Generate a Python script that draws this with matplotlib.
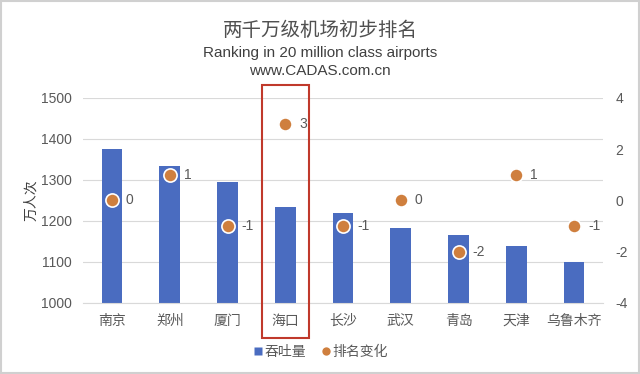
import matplotlib
matplotlib.use("Agg")
import matplotlib.pyplot as plt
import matplotlib.transforms as mtransforms
from matplotlib.patches import Rectangle
from matplotlib.lines import Line2D

plt.rcParams['font.family'] = ['Noto Sans CJK SC', 'DejaVu Sans']
plt.rcParams['axes.unicode_minus'] = False

categories = ['南京', '郑州', '厦门', '海口', '长沙', '武汉', '青岛', '天津', '乌鲁木齐']
throughput = [1375, 1335, 1296, 1235, 1220, 1184, 1165, 1138, 1100]
rank_change = [0, 1, -1, 3, -1, 0, -2, 1, -1]
left_ticks = [1000, 1100, 1200, 1300, 1400, 1500]
right_ticks = [-4, -2, 0, 2, 4]

bar_color = '#4a6cc0'
dot_color = '#cf7f3e'
text_color = '#595959'
grid_color = '#d9d9d9'
latin = ['Liberation Sans', 'DejaVu Sans']

fig = plt.figure(figsize=(6.4, 3.74), dpi=100)
ax = fig.add_axes([0.13, 0.19, 0.812, 0.548])
ax2 = ax.twinx()

x = list(range(len(categories)))
ax.bar(x, throughput, width=0.36, color=bar_color, zorder=2)
ax.set_ylim(1000, 1500)
ax.set_yticks(left_ticks)
ax.set_xlim(-0.5, len(categories) - 0.5)
ax.set_xticks(x)
ax.set_xticklabels(categories, fontsize=10, color=text_color)
ax.yaxis.grid(True, color=grid_color, linewidth=0.8, zorder=0)
ax.set_axisbelow(True)
for s in ['top', 'right', 'left']:
    ax.spines[s].set_visible(False)
ax.spines['bottom'].set_color(grid_color)
ax.tick_params(axis='both', length=0, colors=text_color, labelsize=10)
ax.tick_params(axis='x', pad=8)
ax.tick_params(axis='y', pad=8)
for lbl in ax.get_yticklabels():
    lbl.set_family(latin)
ax.set_ylabel('万人次', fontsize=10, color='#404040', labelpad=2)

ax2.scatter(x, rank_change, s=90, color=dot_color, edgecolors='white', linewidths=1.2, zorder=3)
for xi, v in zip(x, rank_change):
    ax2.annotate(str(v), (xi, v), xytext=(10, 0), textcoords='offset points',
                 va='center', ha='left', fontsize=10, color=text_color, family=latin)
ax2.set_ylim(-4, 4)
ax2.set_yticks(right_ticks)
ax2.set_yticklabels([str(t) for t in right_ticks], family=latin)
for s in ['top', 'right', 'left', 'bottom']:
    ax2.spines[s].set_visible(False)
ax2.tick_params(axis='y', length=0, colors=text_color, labelsize=10, pad=9)

# highlight box around 海口
trans = mtransforms.blended_transform_factory(ax.transData, fig.transFigure)
idx = categories.index('海口')
rect = Rectangle((idx - 0.41, 1 - 338 / 374), 0.82, (338 - 85) / 374,
                 transform=trans, fill=False, edgecolor='#c0392b', linewidth=1.5,
                 clip_on=False, zorder=5)
fig.add_artist(rect)

fig.text(0.5, 0.918, '两千万级机场初步排名', ha='center', va='center', fontsize=14, color='#505050')
fig.text(0.5, 0.857, 'Ranking in 20 million class airports', ha='center', va='center',
         fontsize=11, color='#404040', family=latin)
fig.text(0.5, 0.81, 'www.CADAS.com.cn', ha='center', va='center',
         fontsize=11, color='#404040', family=latin)

handles = [Line2D([0], [0], marker='s', color='none', markerfacecolor=bar_color,
                  markeredgecolor='none', markersize=6),
           Line2D([0], [0], marker='o', color='none', markerfacecolor=dot_color,
                  markeredgecolor='none', markersize=6)]
fig.legend(handles, ['吞吐量', '排名变化'], loc='center', bbox_to_anchor=(0.5, 0.058),
           ncol=2, frameon=False, fontsize=10, handletextpad=0.1, columnspacing=1.0,
           labelcolor=text_color, handlelength=0.8)

fig.add_artist(Rectangle((0.002, 0.003), 0.996, 0.994, transform=fig.transFigure,
                         fill=False, edgecolor='#d0d0d0', linewidth=1.5))

fig.savefig('out.png', dpi=100, facecolor='white')
